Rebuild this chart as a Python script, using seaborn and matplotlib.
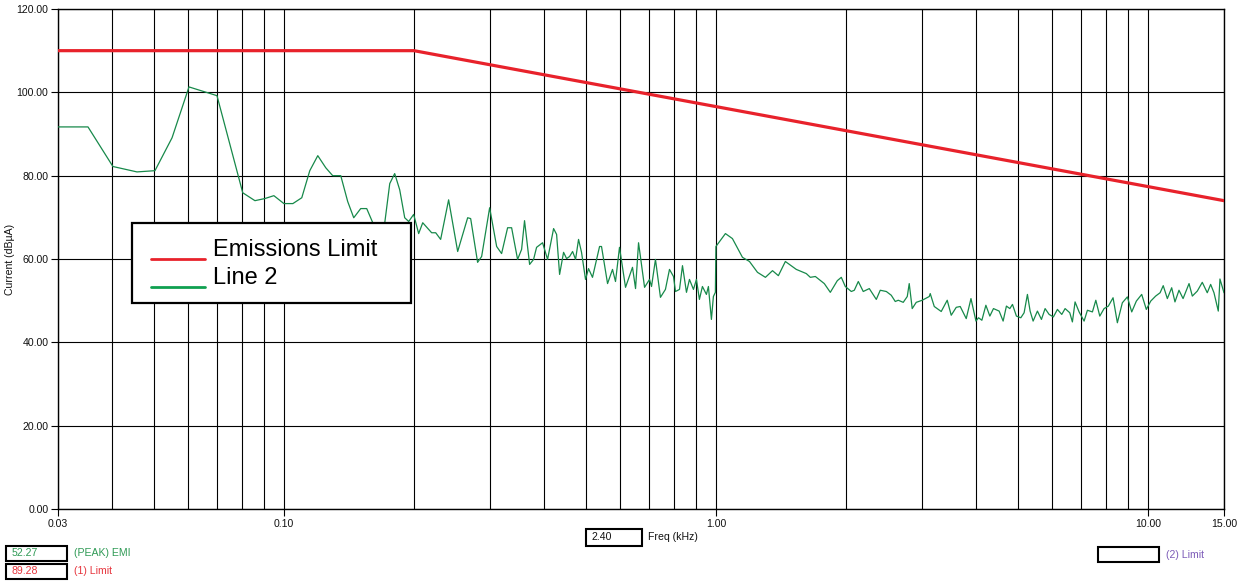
import numpy as np
import matplotlib
matplotlib.use("Agg")
import matplotlib.pyplot as plt
import seaborn as sns
from matplotlib.lines import Line2D
from matplotlib.patches import Rectangle
from matplotlib.legend_handler import HandlerLine2D
from matplotlib.ticker import NullFormatter

# ---------------- data ----------------
limit_freq = [0.03, 0.2, 15.0]
limit_level = [110.0, 110.0, 74.0]

emi_freq = [
    0.0300, 0.0352, 0.0402, 0.0457, 0.0503, 0.0551, 0.0603, 0.0700, 0.0803, 0.0857,
    0.0903, 0.0948, 0.1000, 0.1049, 0.1100, 0.1148, 0.1198, 0.1250, 0.1297, 0.1354,
    0.1405, 0.1451, 0.1506, 0.1555, 0.1606, 0.1712, 0.1758, 0.1805, 0.1854, 0.1904,
    0.1945, 0.1997, 0.2051, 0.2096, 0.2198, 0.2246, 0.2306, 0.2406, 0.2525, 0.2663,
    0.2706, 0.2808, 0.2869, 0.2994, 0.3042, 0.3108, 0.3191, 0.3295, 0.3366, 0.3475,
    0.3550, 0.3606, 0.3705, 0.3784, 0.3845, 0.3970, 0.4077, 0.4210, 0.4278, 0.4347,
    0.4440, 0.4512, 0.4585, 0.4659, 0.4733, 0.4809, 0.4886, 0.4991, 0.5071, 0.5180,
    0.5379, 0.5435, 0.5613, 0.5763, 0.5856, 0.5982, 0.6177, 0.6411, 0.6516, 0.6621,
    0.6837, 0.7020, 0.7095, 0.7246, 0.7441, 0.7641, 0.7808, 0.7977, 0.8062, 0.8236,
    0.8368, 0.8548, 0.8685, 0.8872, 0.9014, 0.9158, 0.9306, 0.9507, 0.9608, 0.9763,
    0.9867, 0.9972, 1.000, 1.052, 1.092, 1.152, 1.196, 1.248, 1.302, 1.352,
    1.395, 1.448, 1.535, 1.619, 1.654, 1.699, 1.782, 1.840, 1.910, 1.951,
    1.993, 2.058, 2.091, 2.136, 2.193, 2.265, 2.351, 2.401, 2.480, 2.546,
    2.601, 2.643, 2.714, 2.773, 2.802, 2.847, 2.909, 3.003, 3.118, 3.134,
    3.202, 3.323, 3.431, 3.505, 3.600, 3.677, 3.797,
    3.894, 3.999, 4.054, 4.127, 4.216, 4.306, 4.390, 4.525, 4.622, 4.704,
    4.790, 4.858, 4.961, 5.079, 5.169, 5.261, 5.337, 5.423, 5.549, 5.669,
    5.781, 5.906, 6.042, 6.173, 6.318, 6.431, 6.593, 6.686, 6.782, 6.929,
    7.116, 7.243, 7.439, 7.575, 7.737, 7.916, 8.099, 8.304, 8.497, 8.726,
    8.962, 9.173, 9.402, 9.674, 9.915, 10.15, 10.42, 10.67, 10.85, 11.09,
    11.35, 11.55, 11.80, 12.06, 12.45, 12.67, 13.01, 13.36, 13.72, 13.97,
    14.22, 14.55, 14.68, 15.00,
]
emi_level = [
    91.7, 91.7, 82.2, 80.9, 81.2, 89.1, 101.3, 99.2, 75.9, 74.0,
    74.5, 75.2, 73.3, 73.3, 74.7, 81.2, 84.8, 81.9, 80.0, 80.0,
    73.8, 69.9, 72.1, 72.1, 68.7, 68.7, 78.1, 80.5, 76.6, 69.9,
    69.0, 70.7, 66.1, 68.7, 66.3, 66.3, 64.7, 74.2, 61.8, 69.9,
    69.7, 59.2, 60.6, 72.3, 68.3, 63.0, 61.3, 67.5, 67.5, 59.9,
    62.3, 69.2, 58.7, 59.9, 62.8, 63.9, 59.9, 67.3, 65.9, 56.3,
    61.6, 60.1, 60.6, 61.8, 59.9, 64.7, 61.6, 55.1, 57.7, 55.6,
    63.0, 63.0, 54.1, 57.5, 54.6, 62.8, 53.2, 58.0, 52.9, 63.9,
    53.2, 55.1, 53.4, 59.9, 50.8, 52.7, 57.5, 55.8, 52.2, 52.7,
    58.4, 52.0, 55.1, 52.7, 55.1, 50.3, 53.4, 51.5, 53.4, 45.5,
    51.0, 52.0, 63.0, 66.1, 64.9, 60.4, 59.4, 56.8, 55.6, 57.2,
    56.0, 59.4, 57.5, 56.5, 55.6, 55.8, 54.1, 52.0, 54.8, 55.6,
    53.4, 52.2, 52.5, 54.6, 52.2, 52.9, 50.3, 52.5, 52.2, 51.3,
    49.8, 50.1, 49.6, 51.0, 54.1, 48.1, 49.6, 50.1, 51.0, 51.7,
    48.6, 47.4, 50.1, 46.5, 48.4, 48.6, 45.7,
    50.5, 45.1, 45.9, 45.3, 48.9, 46.3, 48.1, 47.5, 45.1, 48.7,
    48.1, 49.1, 46.3, 45.9, 47.1, 51.5, 47.5, 45.1, 47.5, 45.5,
    48.1, 46.7, 46.1, 47.9, 46.7, 48.1, 47.1, 44.9, 49.7, 47.3,
    45.1, 47.7, 47.3, 50.1, 46.3, 48.1, 48.7, 50.7, 44.7, 49.5,
    50.9, 47.3, 49.9, 51.5, 47.9, 49.9, 51.1, 51.9, 53.6, 50.5,
    53.1, 49.7, 52.5, 50.5, 54.1, 51.1, 52.3, 54.4, 51.9, 53.9,
    51.9, 47.5, 55.2, 51.9,
]

series_labels = ["Emissions Limit", "Line 2"]
x_tick_values = [0.03, 0.1, 1.0, 10.0, 15.0]
x_tick_labels = ["0.03", "0.10", "1.00", "10.00", "15.00"]
y_tick_values = [0, 20, 40, 60, 80, 100, 120]
y_tick_labels = ["0.00", "20.00", "40.00", "60.00", "80.00", "100.00", "120.00"]
grid_freqs = [0.04, 0.05, 0.06, 0.07, 0.08, 0.09,
              0.2, 0.3, 0.4, 0.5, 0.6, 0.7, 0.8, 0.9,
              2, 3, 4, 5, 6, 7, 8, 9]
y_label = "Current (dBµA)"
x_label = "Freq (kHz)"
cursor_freq = "2.40"
readouts = [("52.27", "(PEAK) EMI"), ("89.28", "(1) Limit"), ("", "(2) Limit")]

# ---------------- style ----------------
RED = "#e8222b"
GREEN = "#17894a"
LEG_GREEN = "#0fa050"
TXT_GREEN = "#2f9a55"
TXT_RED = "#e6343c"
TXT_PURPLE = "#7c5bb8"

sns.set_style("white")
plt.rcParams["font.family"] = ["Liberation Sans", "DejaVu Sans"]
plt.rcParams["text.color"] = "black"
plt.rcParams["axes.labelcolor"] = "black"
plt.rcParams["xtick.color"] = "black"
plt.rcParams["ytick.color"] = "black"

W, H = 1238, 582
fig = plt.figure(figsize=(W / 100, H / 100), dpi=100)
L, R, T, B = 58, 1224, 9, 509
ax = fig.add_axes([L / W, 1 - B / H, (R - L) / W, (B - T) / H])
ax.set_xscale("log")

sns.lineplot(x=emi_freq, y=emi_level, ax=ax, color=GREEN, lw=0.9,
             sort=False, estimator=None, legend=False, zorder=3)
sns.lineplot(x=limit_freq, y=limit_level, ax=ax, color=RED, lw=2.3,
             sort=False, estimator=None, legend=False, zorder=4)

ax.set_xlim(0.03, 15)
ax.set_ylim(0, 120)
ax.set_xticks(x_tick_values)
ax.set_xticklabels(x_tick_labels)
ax.set_xticks(grid_freqs, minor=True)
ax.xaxis.set_minor_formatter(NullFormatter())
ax.set_yticks(y_tick_values)
ax.set_yticklabels(y_tick_labels)
ax.tick_params(which="major", length=5, width=0.8, color="black",
               labelcolor="#111111", labelsize=7.6, pad=2, direction="out",
               bottom=True, left=True)
ax.tick_params(which="minor", length=0)
ax.grid(which="major", axis="both", color="black", lw=0.8)
ax.grid(which="minor", axis="x", color="black", lw=0.8)
ax.set_axisbelow(True)
for s in ax.spines.values():
    s.set_color("black")
    s.set_linewidth(1.0)

ax.set_xlabel("")
ax.set_ylabel(y_label, fontsize=7.6, color="#111111")
ax.yaxis.set_label_coords(-0.037, 0.5)

# ---------------- legend ----------------
class LowHandler(HandlerLine2D):
    def create_artists(self, legend, orig_handle, xdescent, ydescent,
                       width, height, fontsize, trans):
        arts = super().create_artists(legend, orig_handle, xdescent, ydescent,
                                      width, height, fontsize, trans)
        for a in arts:
            a.set_ydata(np.asarray(a.get_ydata(), dtype=float) - 8.0)
        return arts

box = Rectangle((0.0635, 0.412), 0.2392, 0.160, transform=ax.transAxes,
                facecolor="white", edgecolor="black", lw=1.6, zorder=5)
ax.add_patch(box)
handles = [Line2D([], [], color=RED, lw=2.0), Line2D([], [], color=LEG_GREEN, lw=2.0)]
leg = ax.legend(handles, series_labels, loc="upper left",
                bbox_to_anchor=(0.0798, 0.54), frameon=False, fontsize=17,
                borderpad=0, borderaxespad=0, handlelength=2.29,
                handletextpad=0.34, labelspacing=0.25,
                handler_map={Line2D: LowHandler()})
for t in leg.get_texts():
    t.set_color("black")
leg.set_zorder(6)

# ---------------- bottom readouts ----------------
def fbox(x0, y0, x1, y1):
    fig.add_artist(Rectangle((x0 / W, 1 - y1 / H), (x1 - x0) / W, (y1 - y0) / H,
                             transform=fig.transFigure, facecolor="white",
                             edgecolor="black", lw=1.5))

def ftext(x, y, s, color):
    fig.text(x / W, 1 - y / H, s, color=color, fontsize=7.6, ha="left", va="center")

fbox(586, 529, 642, 546)
ftext(592, 537.5, cursor_freq, "#111111")
ftext(648, 537.5, x_label, "#111111")

fbox(6, 546, 67, 561)
ftext(12, 553.5, readouts[0][0], TXT_GREEN)
ftext(74, 553.5, readouts[0][1], TXT_GREEN)
fbox(6, 564, 67, 579)
ftext(12, 571.5, readouts[1][0], TXT_RED)
ftext(74, 571.5, readouts[1][1], TXT_RED)
fbox(1098, 547, 1159, 562)
ftext(1166, 555, readouts[2][1], TXT_PURPLE)

fig.savefig("out.png", dpi=100)
